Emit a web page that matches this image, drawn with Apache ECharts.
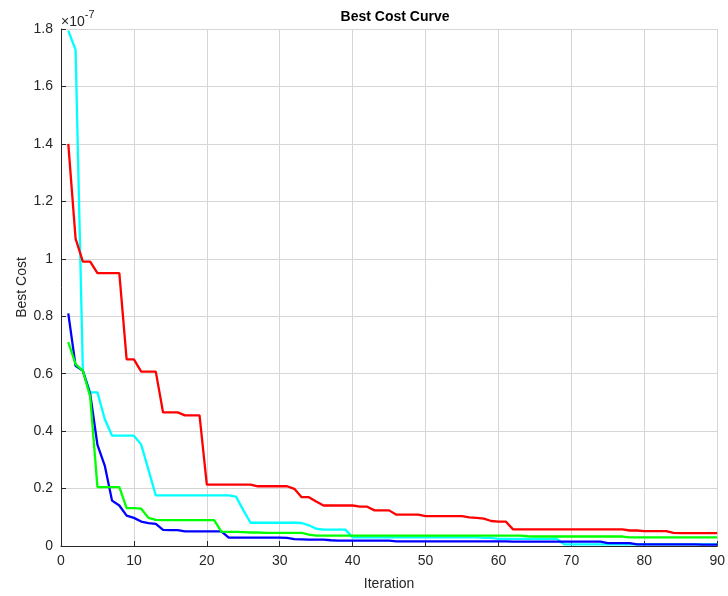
<!DOCTYPE html>
<html>
<head>
<meta charset="utf-8">
<title>Best Cost Curve</title>
<script src="https://cdn.jsdelivr.net/npm/echarts@6/dist/echarts.min.js"></script>
<style>
  html, body { margin: 0; padding: 0; background: #fff; }
  #chart { width: 728px; height: 596px; }
</style>
</head>
<body>
<div id="chart"></div>
<script>
// Best cost per iteration for four runs, in units of 1e-7.
const iterations = Array.from({ length: 90 }, (_, i) => i + 1);

const redCost = [
  1.40, 1.07, 0.99, 0.99, 0.95, 0.95, 0.95, 0.95, 0.65, 0.65,
  0.607, 0.607, 0.607, 0.465, 0.465, 0.465, 0.455, 0.455, 0.455, 0.214,
  0.214, 0.214, 0.214, 0.214, 0.214, 0.214, 0.208, 0.208, 0.208, 0.208,
  0.208, 0.199, 0.170, 0.170, 0.155, 0.141, 0.141, 0.141, 0.141, 0.141,
  0.137, 0.137, 0.124, 0.124, 0.124, 0.109, 0.109, 0.109, 0.109, 0.104,
  0.104, 0.104, 0.104, 0.104, 0.104, 0.100, 0.098, 0.095, 0.087, 0.085,
  0.085, 0.058, 0.058, 0.058, 0.058, 0.058, 0.058, 0.058, 0.058, 0.058,
  0.058, 0.058, 0.058, 0.058, 0.058, 0.058, 0.058, 0.054, 0.054, 0.052,
  0.052, 0.052, 0.052, 0.046, 0.045, 0.045, 0.045, 0.045, 0.045, 0.045
];

const cyanCost = [
  1.794, 1.727, 0.61, 0.535, 0.535, 0.442, 0.384, 0.384, 0.384, 0.384,
  0.353, 0.265, 0.176, 0.176, 0.176, 0.176, 0.176, 0.176, 0.176, 0.176,
  0.176, 0.176, 0.176, 0.172, 0.125, 0.081, 0.081, 0.081, 0.081, 0.081,
  0.081, 0.081, 0.080, 0.072, 0.060, 0.057, 0.057, 0.057, 0.057, 0.030,
  0.030, 0.030, 0.030, 0.030, 0.030, 0.030, 0.030, 0.030, 0.030, 0.030,
  0.030, 0.030, 0.030, 0.030, 0.030, 0.030, 0.030, 0.028, 0.028, 0.025,
  0.025, 0.025, 0.025, 0.025, 0.025, 0.025, 0.025, 0.025, 0.006, 0.006,
  0.006, 0.006, 0.006, 0.006, 0.006, 0.006, 0.006, 0.006, 0.006, 0.006,
  0.006, 0.006, 0.006, 0.006, 0.006, 0.006, 0.006, 0.006, 0.006, 0.006
];

const blueCost = [
  0.81, 0.627, 0.61, 0.53, 0.352, 0.28, 0.158, 0.141, 0.106, 0.098,
  0.085, 0.080, 0.077, 0.056, 0.055, 0.055, 0.051, 0.051, 0.051, 0.051,
  0.051, 0.051, 0.029, 0.029, 0.029, 0.029, 0.029, 0.029, 0.029, 0.029,
  0.028, 0.024, 0.023, 0.022, 0.022, 0.022, 0.020, 0.019, 0.019, 0.019,
  0.019, 0.019, 0.019, 0.019, 0.019, 0.016, 0.016, 0.016, 0.016, 0.016,
  0.016, 0.016, 0.016, 0.016, 0.016, 0.016, 0.016, 0.016, 0.016, 0.016,
  0.016, 0.015, 0.015, 0.015, 0.015, 0.015, 0.015, 0.015, 0.015, 0.015,
  0.015, 0.015, 0.015, 0.015, 0.010, 0.010, 0.010, 0.010, 0.006, 0.006,
  0.006, 0.006, 0.006, 0.006, 0.006, 0.006, 0.006, 0.005, 0.005, 0.005
];

const greenCost = [
  0.71, 0.633, 0.61, 0.52, 0.205, 0.205, 0.205, 0.205, 0.132, 0.132,
  0.130, 0.098, 0.091, 0.090, 0.090, 0.090, 0.090, 0.090, 0.090, 0.090,
  0.090, 0.050, 0.049, 0.049, 0.048, 0.047, 0.047, 0.046, 0.046, 0.046,
  0.046, 0.046, 0.046, 0.040, 0.036, 0.036, 0.036, 0.036, 0.036, 0.036,
  0.036, 0.036, 0.036, 0.036, 0.036, 0.036, 0.036, 0.036, 0.036, 0.036,
  0.036, 0.036, 0.036, 0.036, 0.036, 0.036, 0.036, 0.036, 0.036, 0.036,
  0.036, 0.036, 0.036, 0.034, 0.033, 0.033, 0.033, 0.033, 0.033, 0.033,
  0.033, 0.033, 0.033, 0.033, 0.033, 0.033, 0.033, 0.030, 0.030, 0.030,
  0.030, 0.030, 0.030, 0.030, 0.030, 0.030, 0.030, 0.030, 0.030, 0.030
];

const xTicks = { min: 0, max: 90, interval: 10 };
const yTicks = { min: 0, max: 1.8, interval: 0.2 };

const pairs = (vals) => iterations.map((it, i) => [it, vals[i]]);

const axisColor = '#262626';
const gridColor = '#d6d6d6';
const font = '"Liberation Sans", Arial, Helvetica, sans-serif';

const chart = echarts.init(document.getElementById('chart'), null, { renderer: 'canvas' });

const lineSeries = (name, color, vals) => ({
  name,
  type: 'line',
  data: pairs(vals),
  showSymbol: false,
  symbol: 'none',
  animation: false,
  lineStyle: { color, width: 2.3 },
  itemStyle: { color }
});

chart.setOption({
  animation: false,
  backgroundColor: '#ffffff',
  textStyle: { fontFamily: font },
  title: {
    text: 'Best Cost Curve',
    left: 390,
    top: 5,
    textAlign: 'center',
    textStyle: { fontFamily: font, fontSize: 14, fontWeight: 'bold', color: '#000' }
  },
  grid: { left: 61, right: 10, top: 29, bottom: 49, containLabel: false },
  xAxis: {
    type: 'value',
    min: xTicks.min,
    max: xTicks.max,
    interval: xTicks.interval,
    name: 'Iteration',
    nameLocation: 'middle',
    nameGap: 31,
    nameMoveOverlap: false,
    nameTextStyle: { fontFamily: font, fontSize: 14, color: axisColor },
    axisLine: { show: true, onZero: false, lineStyle: { color: axisColor, width: 1 } },
    axisTick: { show: true, inside: true, length: 5, lineStyle: { color: axisColor } },
    axisLabel: { fontFamily: font, fontSize: 14, color: axisColor, margin: 8 },
    splitLine: { show: true, lineStyle: { color: gridColor, width: 1 } }
  },
  yAxis: {
    type: 'value',
    min: yTicks.min,
    max: yTicks.max,
    interval: yTicks.interval,
    name: 'Best Cost',
    nameLocation: 'middle',
    nameGap: 32,
    nameRotate: 90,
    nameMoveOverlap: false,
    nameTextStyle: { fontFamily: font, fontSize: 14, color: axisColor },
    axisLine: { show: true, onZero: false, lineStyle: { color: axisColor, width: 1 } },
    axisTick: { show: true, inside: true, length: 5, lineStyle: { color: axisColor } },
    axisLabel: { fontFamily: font, fontSize: 14, color: axisColor, margin: 8 },
    splitLine: { show: true, lineStyle: { color: gridColor, width: 1 } }
  },
  graphic: [{
    type: 'text',
    left: 61,
    top: 9,
    style: {
      text: '{a|×10}{b|-7}',
      rich: {
        a: { fontFamily: font, fontSize: 14, fill: axisColor, verticalAlign: 'bottom' },
        b: { fontFamily: font, fontSize: 11, fill: axisColor, verticalAlign: 'top', padding: [0, 0, 9, 0] }
      }
    }
  }],
  series: [
    lineSeries('Run 2', '#00ffff', cyanCost),
    lineSeries('Run 3', '#0000ff', blueCost),
    lineSeries('Run 4', '#00ff00', greenCost),
    lineSeries('Run 1', '#ff0000', redCost)
  ]
});
</script>
</body>
</html>
